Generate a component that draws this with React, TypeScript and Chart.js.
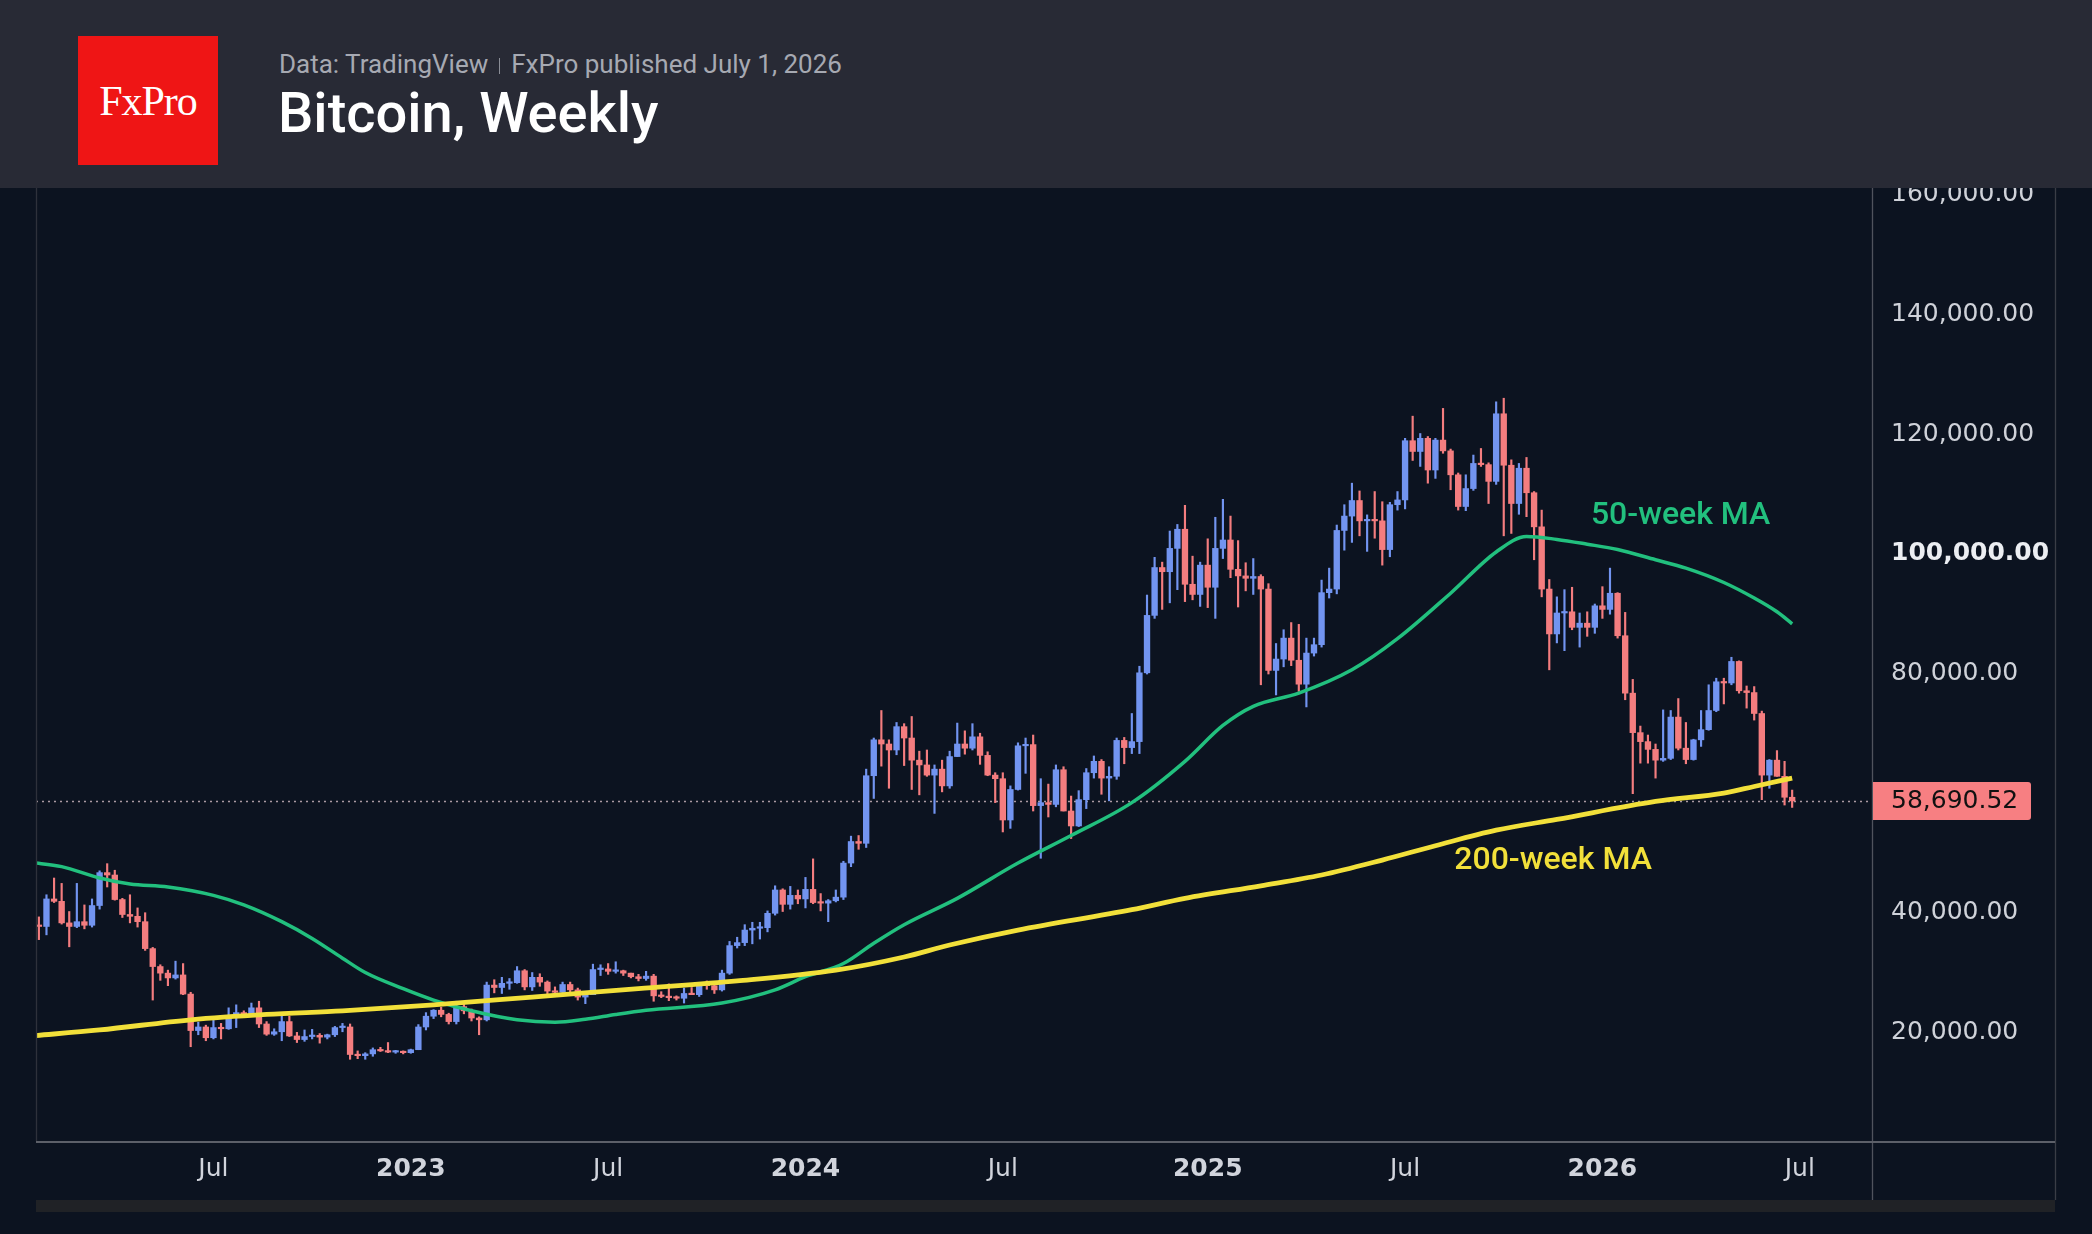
import React, { useEffect, useRef } from "react";
import { Chart, registerables } from "chart.js";

Chart.register(...registerables);

// ---------- DATA ----------
// Weekly candles, first bar = week starting Monday 24 Jan 2022
const START_WEEK_UTC = Date.UTC(2022, 0, 24);

const opens = [
  37900, 37700, 42300, 41900, 38300, 37700, 38500, 37900, 41200, 46700,
  46300, 42200, 39700, 39400, 38500, 34000, 31000, 29900, 29100, 29600,
  26400, 20300, 20900, 19100, 20800, 20600, 22500, 23300, 22900, 24100,
  21400, 19700, 20100, 21800, 19400, 18800, 19300, 19500, 19200, 19600,
  20800, 20900, 16300, 16100, 16400, 17100, 16900, 16700, 16800, 16600,
  17100, 20900, 22700, 23700, 23000, 21800, 24300, 23600, 22400, 22100,
  27900, 27500, 28200, 28300, 30300, 27600, 29200, 28400, 26900, 26700,
  28000, 27100, 25900, 26300, 30500, 30600, 30200, 30300, 29900, 29300,
  29000, 29400, 26100, 26000, 25800, 25700, 26500, 26300, 27900, 27800,
  27100, 29900, 34500, 35000, 37100, 37400, 37500, 39900, 43800, 41400,
  42900, 42300, 43900, 41700, 41600, 42000, 42600, 48300, 51900, 51600,
  62900, 68900, 68200, 67200, 71100, 69200, 65500, 64700, 63000, 64000,
  61200, 66100, 68200, 67500, 69400, 66300, 63000, 62400, 55500, 60600,
  67900, 68100, 57900, 58400, 58100, 63900, 57000, 54500, 58900, 63400,
  65300, 62500, 62800, 68800, 67600, 68600, 80100, 89700, 97700, 97000,
  100900, 104100, 94900, 93200, 98100, 94400, 100900, 102300, 97400, 96300,
  95900, 96200, 94100, 80500, 82400, 85900, 82200, 78200, 83400, 84800,
  93500, 94100, 103900, 106300, 108900, 105500, 105700, 105500, 100700, 108200,
  109000, 118900, 117100, 119300, 114000, 119000, 117200, 113200, 107900, 110900,
  115100, 114900, 112100, 123400, 114800, 108400, 114300, 110200, 104500, 94100,
  86600, 90100, 90300, 87700, 88400, 87700, 91300, 90700, 93400, 86300,
  76700, 70100, 68600, 67300, 65500, 65800, 72700, 67500, 65600, 68900,
  70600, 73800, 78600, 78400, 82000, 77100, 76800, 73300, 63000, 65500,
  62800, 59300,
];

const highs = [
  39300, 43000, 45800, 44900, 40200, 44900, 41300, 42300, 47000, 48200,
  47100, 42400, 43000, 40800, 40000, 34200, 31300, 30400, 31900, 31500,
  26700, 21700, 21200, 22300, 21500, 24100, 24600, 23600, 24900, 25200,
  21800, 20600, 22800, 22700, 20000, 20400, 20500, 19800, 19700, 21000,
  21500, 21400, 16900, 16600, 17400, 17500, 18300, 17000, 16900, 17200,
  21300, 23300, 23800, 24200, 23200, 25200, 25100, 23900, 22600, 28400,
  28800, 29200, 29000, 31000, 30500, 30000, 29800, 28600, 27600, 28400,
  28400, 27400, 26800, 31400, 31300, 31500, 31800, 30400, 29900, 29700,
  30200, 29700, 26800, 28100, 26100, 27400, 27500, 28000, 28600, 28000,
  30400, 35200, 35900, 38000, 38400, 38400, 40300, 44500, 44000, 44400,
  43800, 45900, 49000, 43200, 42200, 43800, 48600, 52800, 52900, 64000,
  69200, 73800, 68900, 71800, 71600, 72800, 67000, 67200, 64700, 65500,
  67000, 71700, 70400, 71600, 70000, 66900, 63400, 63400, 61200, 68400,
  69200, 69700, 62400, 61500, 64700, 64400, 59500, 60400, 64100, 66200,
  65600, 64400, 69200, 69300, 73300, 81200, 93100, 99400, 98600, 103800,
  104900, 108100, 99600, 98600, 102500, 106100, 109100, 106300, 102200, 98500,
  99200, 96500, 95000, 85000, 87300, 88500, 88200, 85900, 85900, 95600,
  97600, 104800, 108200, 111800, 110500, 106500, 110400, 108700, 108600, 110400,
  119300, 123000, 120100, 119600, 119300, 124300, 117500, 113500, 113200, 116500,
  117600, 115200, 125400, 126000, 115700, 115100, 116100, 110400, 107300, 95700,
  92800, 94000, 94400, 90100, 90300, 91600, 94500, 97600, 93500, 90200,
  79000, 71200, 69700, 68200, 73900, 73800, 75800, 71800, 69000, 73800,
  78100, 79200, 79200, 82700, 82100, 77900, 77800, 73700, 65600, 67100,
  65300, 60500,
];

const lows = [
  35500, 36300, 41700, 38100, 34300, 37500, 37300, 37600, 40600, 44300,
  42100, 39200, 38300, 37600, 33700, 25400, 28700, 27800, 28900, 26300,
  17600, 19600, 18600, 18900, 18900, 20500, 20800, 22600, 22800, 20800,
  19500, 19500, 18600, 19300, 18300, 18500, 18900, 18200, 18900, 19300,
  20100, 15500, 15600, 15500, 16000, 16800, 16600, 16500, 16400, 16500,
  17100, 20400, 22300, 22600, 21400, 21400, 23100, 21900, 19600, 21900,
  26600, 26500, 27200, 28200, 27100, 27000, 27700, 25800, 26200, 26100,
  26600, 25400, 24800, 26300, 29500, 29700, 29900, 29500, 29100, 28600,
  28700, 25200, 25800, 25300, 25400, 24900, 26400, 26000, 27200, 26500,
  26900, 29700, 34100, 34500, 34800, 35600, 36800, 39600, 40200, 40600,
  41500, 40800, 41500, 40300, 38500, 41800, 42200, 47700, 50600, 50900,
  59100, 64500, 60800, 66400, 64600, 60600, 59700, 62800, 56600, 60200,
  60800, 66100, 66500, 67200, 64800, 62900, 58400, 53500, 54100, 60500,
  63300, 57000, 49100, 56000, 57700, 57000, 52400, 54400, 57400, 62500,
  59800, 58700, 62300, 64900, 66600, 66600, 79900, 89200, 90700, 91800,
  94000, 92000, 92300, 91200, 91000, 89200, 99200, 96000, 91100, 93800,
  93200, 78100, 79900, 76400, 81100, 81300, 77000, 74400, 82900, 84400,
  92600, 93300, 100600, 101900, 103000, 100400, 102600, 98100, 99500, 107300,
  107500, 115600, 114600, 111800, 112600, 116800, 110700, 107300, 107200, 110600,
  114600, 108400, 111600, 103000, 103400, 106600, 106200, 99000, 92800, 80600,
  85100, 83800, 87300, 84400, 86200, 86700, 89200, 89900, 85900, 75600,
  59900, 65000, 65000, 62500, 65300, 65600, 67200, 64900, 65500, 67800,
  70500, 73600, 74900, 78100, 76700, 74200, 72200, 58900, 60800, 62800,
  58000, 57600,
];

const closes = [
  37700, 42300, 41900, 38300, 37700, 38500, 37900, 41200, 46700, 46300,
  42200, 39700, 39400, 38500, 34000, 31000, 29900, 29100, 29600, 26400,
  20300, 20900, 19100, 20800, 20600, 22500, 23300, 22900, 24100, 21400,
  19700, 20100, 21800, 19400, 18800, 19300, 19500, 19200, 19600, 20800,
  20900, 16300, 16100, 16400, 17100, 16900, 16700, 16800, 16600, 17100,
  20900, 22700, 23700, 23000, 21800, 24300, 23600, 22400, 22100, 27900,
  27500, 28200, 28300, 30300, 27600, 29200, 28400, 26900, 26700, 28000,
  27100, 25900, 26300, 30500, 30600, 30200, 30300, 29900, 29300, 29000,
  29400, 26100, 26000, 25800, 25700, 26500, 26300, 27900, 27800, 27100,
  29900, 34500, 35000, 37100, 37400, 37500, 39900, 43800, 41400, 42900,
  42300, 43900, 41700, 41600, 42000, 42600, 48300, 51900, 51600, 62900,
  68900, 68200, 67200, 71100, 69200, 65500, 64700, 63000, 64000, 61200,
  66100, 68200, 67500, 69400, 66300, 63000, 62400, 55500, 60600, 67900,
  68100, 57900, 58400, 58100, 63900, 57000, 54500, 58900, 63400, 65300,
  62500, 62800, 68800, 67600, 68600, 80100, 89700, 97700, 97000, 100900,
  104100, 94900, 93200, 98100, 94400, 100900, 102300, 97400, 96300, 95900,
  96200, 94100, 80500, 82400, 85900, 82200, 78200, 83400, 84800, 93500,
  94100, 103900, 106300, 108900, 105500, 105700, 105500, 100700, 108200, 109000,
  118900, 117100, 119300, 114000, 119000, 117200, 113200, 107900, 110900, 115100,
  114900, 112100, 123400, 114800, 108400, 114300, 110200, 104500, 94100, 86600,
  90100, 90300, 87700, 88400, 87700, 91300, 90700, 93400, 86300, 76700,
  70100, 68600, 67300, 65500, 65800, 72700, 67500, 65600, 68900, 70600,
  73800, 78600, 78400, 82000, 77100, 76800, 73300, 63000, 65500, 62800,
  59300, 58690.52,
];

// 50-week moving average (week index, value)
const ma50Weeks = [
  -1, 3, 8, 12, 17, 23, 27, 32, 36, 40, 43, 48, 52, 57, 63, 68, 72, 76, 80, 90,
  97, 101, 106, 110, 114, 121, 129, 136, 144, 151, 156, 160, 166, 173, 179, 186,
  192, 196, 200, 204, 208, 213, 217, 222, 226, 229, 231,
];
const ma50Values = [
  48400, 47700, 45800, 44800, 44300, 42900, 41300, 38500, 35700, 32400, 30000,
  27300, 25400, 23600, 22100, 21700, 22200, 23000, 23700, 24900, 27100, 29300,
  31500, 34900, 38000, 42400, 48300, 52900, 58400, 65300, 71300, 74500, 76700,
  80600, 85800, 93400, 100300, 102900, 102400, 101600, 100700, 99000, 97600,
  95200, 92600, 90300, 88300,
];

// 200-week moving average
const ma200Weeks = [
  -1, 8, 20, 30, 40, 52, 65, 79, 92, 105, 114, 120, 129, 144, 151, 161, 169,
  177, 184, 192, 200, 213, 222, 226, 231,
];
const ma200Values = [
  19400, 20400, 22100, 23000, 23600, 24600, 25900, 27300, 28600, 30400, 32600,
  34600, 37100, 40500, 42400, 44500, 46300, 48800, 51200, 53800, 55600, 58600,
  60000, 61100, 62500,
];

const yTickValues = [20000, 40000, 60000, 80000, 100000, 120000, 140000, 160000];
const emphasizedYTick = 100000;
const halfYearLabels: Record<number, string> = { 6: "Jul" };

// ---------- STYLE ----------
const BG = "#0c1320";
const UP = "#7294f0";
const DOWN = "#f47d7f";
const GREEN = "#22c07e";
const YELLOW = "#f2e03a";
const AXIS_FONT = "'DejaVu Sans', sans-serif";
const X_MIN = -0.38;
const X_MAX = 241.52;
const Y_MIN = 1840;
const Y_MAX = 170000;

function weekDate(k: number) {
  return new Date(START_WEEK_UTC + k * 7 * 86400000);
}

function buildXTicks() {
  const out: { value: number; label: string; bold: boolean }[] = [];
  for (let k = Math.ceil(X_MIN); k <= Math.floor(X_MAX); k++) {
    const d = weekDate(k);
    const p = weekDate(k - 1);
    if (d.getUTCMonth() !== p.getUTCMonth()) {
      const m = d.getUTCMonth();
      if (m === 0) out.push({ value: k, label: String(d.getUTCFullYear()), bold: true });
      else if (halfYearLabels[m]) out.push({ value: k, label: halfYearLabels[m], bold: false });
    }
  }
  return out;
}

const fmtPrice = (v: number) =>
  v.toLocaleString("en-US", { minimumFractionDigits: 2, maximumFractionDigits: 2 });

export default function App() {
  const ref = useRef<HTMLCanvasElement | null>(null);

  useEffect(() => {
    document.body.style.margin = "0";
    const canvas = ref.current;
    if (!canvas) return;
    const xTicks = buildXTicks();
    const weeks = closes.map((_, i) => i);
    const lastClose = closes[closes.length - 1];

    const decor = {
      id: "decor",
      beforeDraw(chart: any) {
        const { ctx, width, height } = chart;
        ctx.save();
        ctx.fillStyle = BG;
        ctx.fillRect(0, 0, width, height);
        ctx.restore();
      },
      beforeDatasetsDraw(chart: any) {
        const { ctx, chartArea, scales } = chart;
        const y = Math.round(scales.y.getPixelForValue(lastClose)) + 0.5;
        ctx.save();
        ctx.strokeStyle = "rgba(225,200,205,0.75)";
        ctx.lineWidth = 1.3;
        ctx.setLineDash([2, 4]);
        ctx.beginPath();
        ctx.moveTo(chartArea.left, y);
        ctx.lineTo(chartArea.right, y);
        ctx.stroke();
        ctx.restore();
      },
      afterDraw(chart: any) {
        const { ctx, chartArea, scales, height } = chart;
        const right = chartArea.right;
        const outerRight = right + 183;
        ctx.save();
        // frame lines
        ctx.strokeStyle = "#2e313b";
        ctx.lineWidth = 1.3;
        ctx.beginPath();
        ctx.moveTo(chartArea.left + 0.5, 0);
        ctx.lineTo(chartArea.left + 0.5, chartArea.bottom);
        ctx.stroke();
        ctx.strokeStyle = "#50535d";
        ctx.beginPath();
        ctx.moveTo(right + 0.5, 0);
        ctx.lineTo(right + 0.5, height);
        ctx.stroke();
        ctx.strokeStyle = "#3a3d46";
        ctx.beginPath();
        ctx.moveTo(outerRight + 0.5, 0);
        ctx.lineTo(outerRight + 0.5, height);
        ctx.stroke();
        ctx.strokeStyle = "#5d6069";
        ctx.lineWidth = 2;
        ctx.beginPath();
        ctx.moveTo(chartArea.left, chartArea.bottom + 1);
        ctx.lineTo(outerRight, chartArea.bottom + 1);
        ctx.stroke();

        // last price label
        const py = scales.y.getPixelForValue(lastClose);
        const bx = right + 1;
        const bw = 158;
        const bh = 38;
        ctx.fillStyle = "#f77f82";
        ctx.beginPath();
        (ctx as any).roundRect(bx, py - bh / 2, bw, bh, [0, 3, 3, 0]);
        ctx.fill();
        ctx.fillStyle = "#111111";
        ctx.font = `25px ${AXIS_FONT}`;
        ctx.textAlign = "left";
        ctx.textBaseline = "middle";
        ctx.fillText(fmtPrice(lastClose), right + 19, py + 1);

        // MA labels
        ctx.font = "500 32px Roboto, sans-serif";
        ctx.textAlign = "center";
        ctx.fillStyle = GREEN;
        ctx.fillText(
          "50-week MA",
          scales.x.getPixelForValue(216.3),
          scales.y.getPixelForValue(106300)
        );
        ctx.fillStyle = YELLOW;
        ctx.fillText(
          "200-week MA",
          scales.x.getPixelForValue(199.5),
          scales.y.getPixelForValue(48700)
        );
        ctx.restore();
      },
    };

    const chart = new Chart(canvas, {
      type: "bar",
      data: {
        datasets: [
          {
            type: "line",
            label: "200-week MA",
            data: ma200Weeks.map((w, i) => ({ x: w, y: ma200Values[i] })),
            borderColor: YELLOW,
            borderWidth: 4.8,
            pointRadius: 0,
            cubicInterpolationMode: "monotone",
            order: 0,
          } as any,
          {
            type: "line",
            label: "50-week MA",
            data: ma50Weeks.map((w, i) => ({ x: w, y: ma50Values[i] })),
            borderColor: GREEN,
            borderWidth: 3.5,
            pointRadius: 0,
            cubicInterpolationMode: "monotone",
            order: 1,
          } as any,
          {
            label: "body",
            data: weeks.map((k) => ({ x: k, y: [opens[k], closes[k]] })),
            backgroundColor: weeks.map((k) => (closes[k] >= opens[k] ? UP : DOWN)),
            barThickness: 5.7,
            minBarLength: 1.5,
            grouped: false,
            borderWidth: 0,
            order: 2,
          } as any,
          {
            label: "wick",
            data: weeks.map((k) => ({ x: k, y: [lows[k], highs[k]] })),
            backgroundColor: weeks.map((k) => (closes[k] >= opens[k] ? UP : DOWN)),
            barThickness: 1.5,
            grouped: false,
            borderWidth: 0,
            order: 3,
          } as any,
        ],
      },
      options: {
        animation: false,
        responsive: false,
        maintainAspectRatio: false,
        devicePixelRatio: 1,
        layout: { padding: { left: 36, right: 37, top: 135, bottom: 0 } },
        plugins: {
          legend: { display: false },
          tooltip: { enabled: false },
          title: { display: false },
        },
        scales: {
          x: {
            type: "linear",
            min: X_MIN,
            max: X_MAX,
            offset: false,
            bounds: "data",
            grid: { display: false, drawTicks: false, offset: false },
            border: { display: false },
            afterBuildTicks: (s: any) => {
              s.ticks = xTicks.map((t) => ({ value: t.value }));
            },
            afterFit: (s: any) => {
              s.height = 59;
            },
            ticks: {
              autoSkip: false,
              maxRotation: 0,
              padding: 13,
              color: "#d1d4dc",
              font: (c: any) => {
                const t = xTicks.find((q) => q.value === c.tick?.value);
                return { family: AXIS_FONT, size: 25, weight: t && t.bold ? "bold" : "normal" };
              },
              callback: (v: any) => {
                const t = xTicks.find((q) => q.value === v);
                return t ? t.label : "";
              },
            },
          },
          y: {
            type: "linear",
            position: "right",
            min: Y_MIN,
            max: Y_MAX,
            grid: { display: false, drawTicks: false },
            border: { display: false },
            afterBuildTicks: (s: any) => {
              s.ticks = yTickValues.map((v) => ({ value: v }));
            },
            afterFit: (s: any) => {
              s.width = 183;
            },
            ticks: {
              padding: 19,
              color: (c: any) => (c.tick?.value === emphasizedYTick ? "#eceef2" : "#cfd2d9"),
              font: (c: any) => ({
                family: AXIS_FONT,
                size: 25,
                weight: c.tick?.value === emphasizedYTick ? "bold" : "normal",
              }),
              callback: (v: any) => fmtPrice(Number(v)),
            },
          },
        },
      } as any,
      plugins: [decor],
    });

    return () => chart.destroy();
  }, []);

  return (
    <div
      style={{
        position: "absolute",
        left: 0,
        top: 0,
        width: 2092,
        height: 1234,
        background: BG,
        overflow: "hidden",
      }}
    >
      <canvas
        ref={ref}
        width={2092}
        height={1200}
        style={{ position: "absolute", left: 0, top: 0, width: 2092, height: 1200 }}
      />
      <div
        style={{
          position: "absolute",
          left: 0,
          top: 0,
          width: 2092,
          height: 188,
          background: "#282a35",
        }}
      >
        <div
          style={{
            position: "absolute",
            left: 78,
            top: 36,
            width: 140,
            height: 129,
            background: "#ef1515",
            display: "flex",
            alignItems: "center",
            justifyContent: "center",
            color: "#ffffff",
            fontFamily: "'Liberation Serif', 'DejaVu Serif', serif",
            fontSize: 42,
            letterSpacing: -1,
          }}
        >
          FxPro
        </div>
        <div
          style={{
            position: "absolute",
            left: 279,
            top: 51,
            fontFamily: "Roboto, sans-serif",
            fontSize: 26,
            lineHeight: "26px",
            color: "#a6a9b2",
            whiteSpace: "nowrap",
          }}
        >
          Data: TradingView
          <span
            style={{
              display: "inline-block",
              width: 1,
              height: 16,
              background: "#8a8d96",
              margin: "0 11px",
              verticalAlign: "-1px",
            }}
          />
          FxPro published July 1, 2026
        </div>
        <div
          style={{
            position: "absolute",
            left: 278,
            top: 85,
            fontFamily: "Roboto, sans-serif",
            fontWeight: 500,
            fontSize: 56,
            lineHeight: "56px",
            color: "#ffffff",
            whiteSpace: "nowrap",
          }}
        >
          Bitcoin, Weekly
        </div>
      </div>
      <div
        style={{
          position: "absolute",
          left: 36,
          top: 1200,
          width: 2019,
          height: 12,
          background: "#202226",
        }}
      />
    </div>
  );
}
